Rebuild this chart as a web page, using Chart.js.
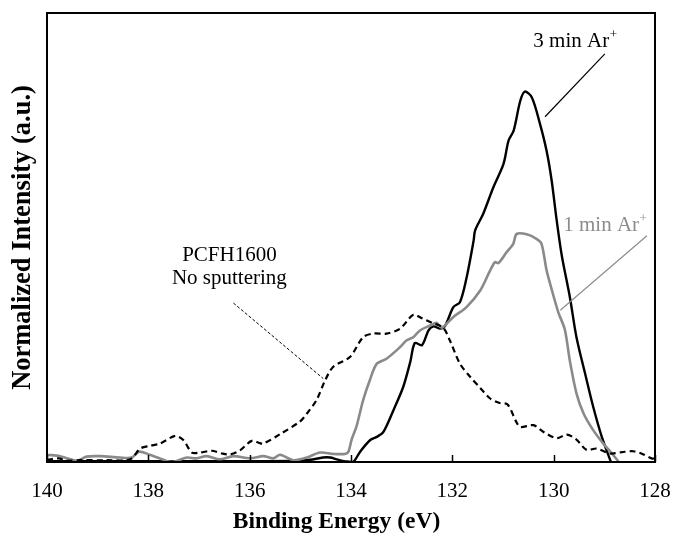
<!DOCTYPE html>
<html>
<head>
<meta charset="utf-8">
<script src="https://cdn.jsdelivr.net/npm/chart.js@4.4.1/dist/chart.umd.min.js"></script>
<style>
  html, body { margin: 0; padding: 0; background: #ffffff; }
  #wrap { width: 673px; height: 534px; }
</style>
</head>
<body>
<div id="wrap"><canvas id="c" width="673" height="534"></canvas></div>
<script>
// ---- Data (binding energy in eV, normalized intensity in % of plot height) ----
const xTicks = [140, 138, 136, 134, 132, 130, 128];

const noSputterX = [140.00,139.77,139.61,139.35,138.82,138.36,138.16,137.97,137.77,137.47,137.31,137.14,136.98,136.75,136.55,136.39,136.19,135.96,135.80,135.73,135.40,135.01,134.87,134.68,134.51,134.35,134.02,133.76,133.56,133.30,133.03,132.77,132.60,132.40,132.18,132.05,131.85,131.65,131.45,131.26,131.08,130.91,130.74,130.66,130.40,130.20,129.94,129.74,129.55,129.35,129.15,128.89,128.65,128.43,128.25,128.07,128.00];
const noSputterY = [0.5,0.8,0.3,0.4,0.4,0.6,3.0,3.6,4.1,5.8,4.9,2.1,2.1,2.5,1.9,1.7,2.6,4.7,4.2,4.1,6.2,9.0,10.8,13.8,18.2,21.2,23.4,27.8,28.6,28.6,29.7,32.8,32.0,31.0,29.9,27.1,21.9,19.0,16.5,14.2,13.2,12.8,9.0,7.8,8.2,6.7,5.3,6.1,5.0,2.7,3.0,1.9,2.2,2.4,1.8,0.8,0.8];

const oneMinX = [140.00,139.74,139.41,139.22,138.95,138.56,138.33,138.18,137.97,137.77,137.54,137.24,137.05,136.85,136.59,136.32,135.99,135.73,135.53,135.40,135.14,134.87,134.61,134.35,134.12,134.05,133.99,133.89,133.76,133.62,133.49,133.30,133.03,132.90,132.77,132.64,132.44,132.31,132.21,131.98,131.72,131.45,131.26,131.16,131.09,130.93,130.80,130.73,130.53,130.34,130.24,130.14,130.07,129.91,129.78,129.68,129.55,129.41,129.22,129.02,128.85,128.72];
const oneMinY = [1.6,1.3,0.3,1.2,1.3,1.0,1.0,2.3,1.6,0.8,0.0,1.0,0.8,1.3,0.6,1.3,0.8,1.3,0.8,1.6,0.4,1.0,2.1,1.8,1.8,2.3,4.9,8.0,13.8,18.5,21.9,23.0,25.6,27.1,27.8,29.3,30.4,31.0,29.9,32.3,34.5,38.2,42.5,44.5,44.3,46.7,48.5,50.8,50.7,49.7,48.6,42.7,39.7,33.4,29.5,22.5,15.3,10.8,7.1,4.1,1.9,0.1];

const threeMinX = [140.00,138.00,136.00,135.00,134.80,134.55,134.41,134.28,134.08,133.95,133.82,133.62,133.49,133.36,133.16,132.97,132.83,132.74,132.60,132.47,132.37,132.24,132.14,131.98,131.85,131.72,131.58,131.55,131.39,131.19,130.99,130.89,130.79,130.66,130.57,130.43,130.27,130.14,130.04,129.94,129.84,129.68,129.55,129.38,129.22,129.05,128.87];
const threeMinY = [0.2,0.2,0.2,0.3,0.5,1.0,1.0,0.6,0.1,0.1,2.3,4.9,5.6,6.7,11.6,16.7,22.3,26.5,26.0,29.3,30.2,29.7,30.4,34.5,35.6,41.0,49.3,51.6,55.3,61.2,66.4,71.6,73.8,80.4,82.5,81.2,75.3,69.3,62.7,53.8,46.0,36.7,27.8,19.7,12.3,5.6,0.0];

const seriesNames = ['PCFH1600 No sputtering', '1 min Ar+', '3 min Ar+'];

function pts(xs, ys) { return xs.map((x, i) => ({ x: x, y: ys[i] })); }

const SERIF = '"Liberation Serif", "Times New Roman", serif';

// box, inward ticks, annotations
const decor = {
  id: 'decor',
  afterDatasetsDraw(chart) {
    const { ctx, chartArea: a, scales } = chart;
    const xs = scales.x, ys = scales.y;
    ctx.save();
    ctx.strokeStyle = '#000';
    ctx.lineWidth = 1.5;
    xTicks.forEach(v => {
      const px = Math.round(xs.getPixelForValue(v)) + 0.5;
      ctx.beginPath();
      ctx.moveTo(px, a.bottom);
      ctx.lineTo(px, a.bottom - 7);
      ctx.stroke();
    });
    ctx.lineWidth = 2;
    ctx.strokeRect(a.left, a.top, a.right - a.left, a.bottom - a.top);

    function label(text, sup, cx, cy, color) {
      ctx.fillStyle = color;
      ctx.font = '21px ' + SERIF;
      ctx.textBaseline = 'middle';
      const w1 = ctx.measureText(text).width;
      ctx.font = '13px ' + SERIF;
      const w2 = sup ? ctx.measureText(sup).width : 0;
      const x0 = cx - (w1 + w2) / 2;
      ctx.font = '21px ' + SERIF;
      ctx.textAlign = 'left';
      ctx.fillText(text, x0, cy);
      if (sup) {
        ctx.font = '13px ' + SERIF;
        ctx.fillText(sup, x0 + w1 + 0.5, cy - 7);
      }
    }
    function leader(x1, y1, x2, y2, color, width, dash) {
      ctx.strokeStyle = color;
      ctx.lineWidth = width;
      ctx.setLineDash(dash || []);
      ctx.beginPath();
      ctx.moveTo(xs.getPixelForValue(x1), ys.getPixelForValue(y1));
      ctx.lineTo(xs.getPixelForValue(x2), ys.getPixelForValue(y2));
      ctx.stroke();
      ctx.setLineDash([]);
    }
    label('3 min Ar', '+', xs.getPixelForValue(129.58), ys.getPixelForValue(93.6), '#000');
    leader(128.99, 90.9, 130.17, 76.9, '#000', 1.2);
    label('1 min Ar', '+', xs.getPixelForValue(128.99), ys.getPixelForValue(52.6), '#8c8c8c');
    leader(128.16, 50.4, 129.87, 33.8, '#8c8c8c', 1.2);
    ctx.textAlign = 'center';
    ctx.textBaseline = 'middle';
    ctx.fillStyle = '#000';
    ctx.font = '21px ' + SERIF;
    const pcx = xs.getPixelForValue(136.40);
    ctx.fillText('PCFH1600', pcx, ys.getPixelForValue(46.0));
    ctx.fillText('No sputtering', pcx, ys.getPixelForValue(40.8));
    leader(136.32, 35.4, 134.55, 18.6, '#000', 1, [3, 2]);
    ctx.restore();
  }
};

new Chart(document.getElementById('c'), {
  type: 'scatter',
  data: {
    datasets: [
      {
        label: seriesNames[0],
        data: pts(noSputterX, noSputterY),
        showLine: true,
        borderColor: '#000000',
        borderWidth: 2.2,
        borderDash: [6, 4],
        pointRadius: 0,
        tension: 0.3,
        fill: false
      },
      {
        label: seriesNames[1],
        data: pts(oneMinX, oneMinY),
        showLine: true,
        borderColor: '#8a8a8a',
        borderWidth: 2.6,
        pointRadius: 0,
        tension: 0.3,
        fill: false
      },
      {
        label: seriesNames[2],
        data: pts(threeMinX, threeMinY),
        showLine: true,
        borderColor: '#000000',
        borderWidth: 2.4,
        pointRadius: 0,
        tension: 0.3,
        fill: false
      }
    ]
  },
  options: {
    responsive: false,
    maintainAspectRatio: false,
    devicePixelRatio: 1,
    animation: false,
    layout: { padding: { top: 13, right: 0, left: 0, bottom: 0 } },
    plugins: {
      legend: { display: false },
      tooltip: { enabled: false },
      title: {
        display: true,
        position: 'bottom',
        text: 'Binding Energy (eV)',
        color: '#000',
        font: { family: SERIF, size: 23.5, weight: 'bold', lineHeight: 1.0 },
        padding: { top: 0, bottom: 0 }
      }
    },
    scales: {
      x: {
        type: 'linear',
        reverse: true,
        min: 128,
        max: 140,
        afterBuildTicks(scale) { scale.ticks = xTicks.map(v => ({ value: v })); },
        afterFit(scale) { scale.height = 48.5; scale.paddingLeft = 0; scale.paddingRight = 18; },
        grid: { display: false, drawTicks: false },
        border: { display: false },
        ticks: {
          color: '#000',
          padding: 17,
          maxRotation: 0,
          autoSkip: false,
          font: { family: SERIF, size: 21 }
        }
      },
      y: {
        type: 'linear',
        min: 0,
        max: 100,
        afterFit(scale) { scale.width = 47; scale.paddingTop = 0; scale.paddingBottom = 0; },
        grid: { display: false, drawTicks: false },
        border: { display: false },
        ticks: { display: false },
        title: {
          display: true,
          text: 'Normalized Intensity (a.u.)',
          color: '#000',
          font: { family: SERIF, size: 26.5, weight: 'bold', lineHeight: 1.0 },
          padding: { top: 10, bottom: 0 }
        }
      }
    }
  },
  plugins: [decor]
});
</script>
</body>
</html>
